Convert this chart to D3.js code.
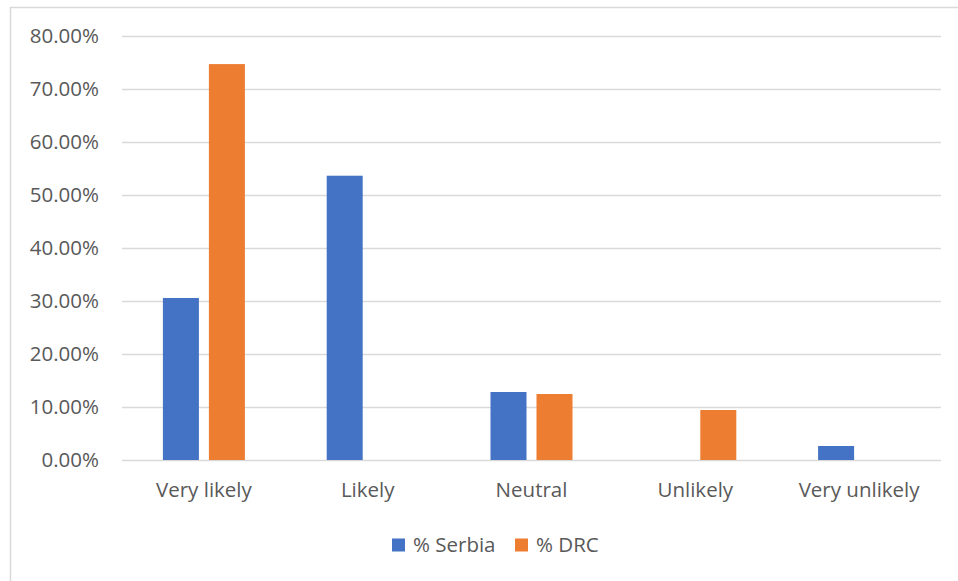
<!DOCTYPE html>
<html>
<head>
<meta charset="utf-8">
<script src="https://cdn.jsdelivr.net/npm/d3@7"></script>
<style>
  html, body { margin: 0; padding: 0; background: #fff; }
  svg { display: block; }
  text { font-family: "Open Sans", "Liberation Sans", sans-serif; fill: #595959; }
</style>
</head>
<body>
<svg id="chart" width="958" height="581"></svg>
<script>
const categories = ["Very likely", "Likely", "Neutral", "Unlikely", "Very unlikely"];
const seriesNames = ["% Serbia", "% DRC"];
const serbia = [0.3057, 0.5364, 0.1283, 0, 0.0264];
const drc = [0.7470, 0, 0.1245, 0.0943, 0];
const yTicks = [0, 0.1, 0.2, 0.3, 0.4, 0.5, 0.6, 0.7, 0.8];
const colors = ["#4472C4", "#ED7D31"];

const svg = d3.select("#chart");
const FS = 20.5;

// outer chart border
svg.append("rect").attr("x", 10.5).attr("y", 7.5).attr("width", 960).attr("height", 600)
  .attr("fill", "none").attr("stroke", "#d9d9d9").attr("stroke-width", 1.5);

const plot = { left: 122, right: 941, top: 36, bottom: 460 };

const x = d3.scaleBand().domain(categories).range([plot.left, plot.right]).paddingInner(0).paddingOuter(0);
const y = d3.scaleLinear().domain([0, 0.8]).range([plot.bottom, plot.top]);

const barW = 36, gap = 10;

// gridlines + y labels
const yAxis = d3.axisLeft(y).tickValues(yTicks).tickSize(-(plot.right - plot.left)).tickPadding(23)
  .tickFormat(d => (d * 100).toFixed(2) + "%");
const gy = svg.append("g").attr("transform", `translate(${plot.left},0)`).call(yAxis);
gy.select(".domain").remove();
gy.selectAll(".tick line").attr("stroke", "#d9d9d9").attr("stroke-width", 1.5);
gy.selectAll(".tick text").attr("font-size", FS).attr("fill", "#595959")
  .style("font-family", '"Open Sans", sans-serif');

// bars
const data = categories.map((c, i) => ({ c, vals: [serbia[i], drc[i]] }));
const groupW = barW * 2 + gap;
const groups = svg.append("g").selectAll("g").data(data).join("g")
  .attr("transform", d => `translate(${x(d.c) + x.bandwidth() / 2 - groupW / 2},0)`);
groups.selectAll("rect").data(d => d.vals.map((v, j) => ({ v, j }))).join("rect")
  .attr("x", d => d.j * (barW + gap))
  .attr("width", barW)
  .attr("y", d => y(d.v))
  .attr("height", d => y(0) - y(d.v))
  .attr("fill", d => colors[d.j]);

// x axis
const xAxis = d3.axisBottom(x).tickSize(0).tickPadding(22);
const gx = svg.append("g").attr("transform", `translate(0,${plot.bottom})`).call(xAxis);
gx.select(".domain").remove();
gx.selectAll(".tick text").attr("font-size", FS).attr("fill", "#595959")
  .style("font-family", '"Open Sans", sans-serif');

// legend
const legendItems = [{ name: seriesNames[0], x: 392 }, { name: seriesNames[1], x: 515 }];
const lg = svg.append("g").selectAll("g").data(legendItems).join("g")
  .attr("transform", (d) => `translate(${d.x},545)`);
lg.append("rect").attr("x", 0).attr("y", -6.5).attr("width", 13).attr("height", 13)
  .attr("fill", (d, i) => colors[i]);
lg.append("text").attr("x", 21).attr("y", 0).attr("dy", "0.35em")
  .attr("font-size", FS).text(d => d.name);
</script>
</body>
</html>
